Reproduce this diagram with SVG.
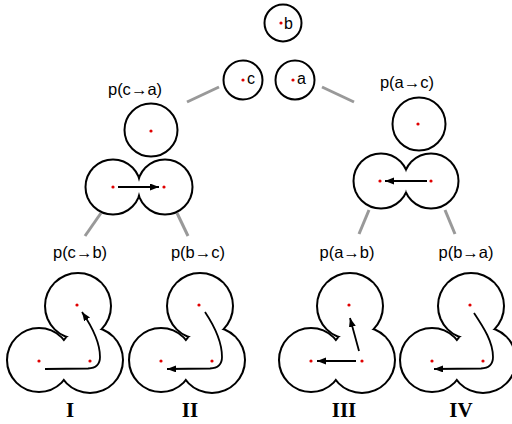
<svg xmlns="http://www.w3.org/2000/svg" width="512" height="424" viewBox="0 0 512 424">
<style>
.bg{fill:#fff}
.o{fill:none;stroke:#000;stroke-width:4}
.f{fill:#fff;stroke:none}
.c1{fill:#fff;stroke:#000;stroke-width:2}
.dot{fill:#e00000}
.lbl{font-family:"Liberation Sans","DejaVu Sans",sans-serif;font-size:16.5px;fill:#000;text-anchor:middle}
.lbl tspan{font-weight:bold}
.let{font-family:"Liberation Sans","DejaVu Sans",sans-serif;font-size:16px;fill:#000}
.rom{font-family:"Liberation Serif","DejaVu Serif",serif;font-size:21px;font-weight:bold;fill:#000;text-anchor:middle}
.gl{stroke:#999;stroke-width:3;fill:none}
.ar{fill:none;stroke:#000;stroke-width:1.8;marker-end:url(#ah)}
</style>
<defs>
<marker id="ah" markerUnits="userSpaceOnUse" markerWidth="10" markerHeight="8" refX="9" refY="3.5" orient="auto">
<path d="M0,0 L9,3.5 L0,7 z" fill="#000"/>
</marker>
<g id="tri">
<circle class="o" cx="78" cy="306" r="32"/>
<circle class="o" cx="39" cy="360" r="31"/>
<circle class="o" cx="90" cy="360" r="32"/>
<circle class="f" cx="78" cy="306" r="32"/>
<circle class="f" cx="39" cy="360" r="31"/>
<circle class="f" cx="90" cy="360" r="32"/>
<circle class="dot" cx="77" cy="305" r="1.6"/>
<circle class="dot" cx="39" cy="361" r="1.6"/>
<circle class="dot" cx="90" cy="361" r="1.6"/>
</g>
</defs>
<rect class="bg" width="512" height="424"/>

<g id="connectors">
<line class="gl" x1="219" y1="87" x2="187" y2="102"/>
<line class="gl" x1="322" y1="87" x2="354" y2="102"/>
<line class="gl" x1="101" y1="213" x2="85" y2="236"/>
<line class="gl" x1="177" y1="213" x2="188" y2="236"/>
<line class="gl" x1="369" y1="210" x2="359" y2="234"/>
<line class="gl" x1="445" y1="210" x2="455" y2="234"/>
</g>

<g id="node-b">
<circle class="c1" cx="283" cy="23" r="18.5"/>
<circle class="dot" cx="281" cy="23" r="1.6"/>
<text class="let" x="284" y="29">b</text>
</g>
<g id="node-c">
<circle class="c1" cx="243" cy="80" r="19.5"/>
<circle class="dot" cx="243" cy="80" r="1.6"/>
<text class="let" x="247" y="84">c</text>
</g>
<g id="node-a">
<circle class="c1" cx="295" cy="80" r="19.5"/>
<circle class="dot" cx="293" cy="80" r="1.6"/>
<text class="let" x="297" y="84">a</text>
</g>

<g id="node-ca">
<text class="lbl" x="135" y="95">p(c<tspan>→</tspan>a)</text>
<circle class="c1" cx="151" cy="130" r="26.5"/>
<circle class="dot" cx="151" cy="131" r="1.6"/>
<circle class="o" cx="113" cy="187" r="26.5"/>
<circle class="o" cx="165" cy="187" r="26.5"/>
<circle class="f" cx="113" cy="187" r="26.5"/>
<circle class="f" cx="165" cy="187" r="26.5"/>
<circle class="dot" cx="113" cy="187" r="1.6"/>
<circle class="dot" cx="164" cy="187" r="1.6"/>
<path class="ar" d="M118,187 L159,187"/>
</g>

<g id="node-ac">
<text class="lbl" x="407" y="88">p(a<tspan>→</tspan>c)</text>
<circle class="c1" cx="419" cy="124" r="26.5"/>
<circle class="dot" cx="418" cy="124" r="1.6"/>
<circle class="o" cx="381" cy="181" r="26.5"/>
<circle class="o" cx="431" cy="181" r="26.5"/>
<circle class="f" cx="381" cy="181" r="26.5"/>
<circle class="f" cx="431" cy="181" r="26.5"/>
<circle class="dot" cx="380" cy="181" r="1.6"/>
<circle class="dot" cx="431" cy="181" r="1.6"/>
<path class="ar" d="M427,181 L385,181"/>
</g>

<g id="node-I">
<text class="lbl" x="80" y="258">p(c<tspan>→</tspan>b)</text>
<use href="#tri"/>
<path class="ar" d="M45,369 L88,368.5 Q100,368 100,357 C100,345 93,328 82,312"/>
<text class="rom" x="70" y="417">I</text>
</g>

<g id="node-II">
<text class="lbl" x="198" y="258">p(b<tspan>→</tspan>c)</text>
<use href="#tri" transform="translate(122,0)"/>
<path class="ar" d="M205,312 C215,327 222,342 222,357 Q222,368 210,368.5 L167,369"/>
<text class="rom" x="190" y="417">II</text>
</g>

<g id="node-III">
<text class="lbl" x="347" y="258">p(a<tspan>→</tspan>b)</text>
<use href="#tri" transform="translate(272,0)"/>
<path class="ar" d="M359,351 L350,318"/>
<path class="ar" d="M356,361 L317,361"/>
<text class="rom" x="344" y="417">III</text>
</g>

<g id="node-IV">
<text class="lbl" x="466" y="258">p(b<tspan>→</tspan>a)</text>
<use href="#tri" transform="translate(393,0)"/>
<path class="ar" d="M474,313 C484,328 493,342 493,357 Q493,368 481,368.5 L434,369"/>
<text class="rom" x="461" y="417">IV</text>
</g>
</svg>
